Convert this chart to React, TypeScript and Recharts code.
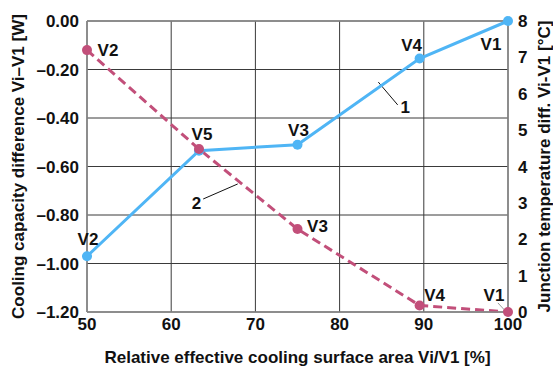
import {
  ComposedChart,
  Line,
  XAxis,
  YAxis,
  CartesianGrid,
  ReferenceLine,
  ReferenceDot,
  LabelList,
  Label,
} from 'recharts'

// relative effective cooling surface area Vi/V1 [%]
const areaPct = [50, 63.3, 75, 89.5, 100]
// cooling capacity difference Vi–V1 [W]
const capacityDiff = [-0.97, -0.535, -0.51, -0.155, 0]
// junction temperature difference Vi-V1 [°C]
const tempDiff = [7.2, 4.48, 2.28, 0.18, 0]
const variantNames = ['V2', 'V5', 'V3', 'V4', 'V1']

const xTicks = [50, 60, 70, 80, 90, 100]
const leftTicks = [-1.2, -1.0, -0.8, -0.6, -0.4, -0.2, 0]
const rightTicks = [0, 1, 2, 3, 4, 5, 6, 7, 8]

const data = areaPct.map((x, i) => ({
  x,
  cap: capacityDiff[i],
  temp: tempDiff[i],
  name: variantNames[i],
}))

const FONT = '"Liberation Sans", Arial, sans-serif'
const BLUE = '#4fb5f5'
const PINK = '#c24f7a'
const TXT = { fill: '#111', fontSize: 17, fontWeight: 'bold' as const }

// label offsets relative to the point (text centre)
const blueOffsets = [
  { dx: 1, dy: -17 },
  { dx: 3, dy: -16 },
  { dx: 1, dy: -14 },
  { dx: -8, dy: -13 },
  { dx: -17, dy: 23 },
]
const pinkOffsets = [
  { dx: 21, dy: 0 },
  null,
  { dx: 20, dy: -3 },
  { dx: 15, dy: -10 },
  { dx: -14, dy: -17 },
]

function makeLabel(offsets: Array<{ dx: number; dy: number } | null>) {
  return function PointLabel(props: any) {
    const { x, y, index, value } = props
    const off = offsets[index]
    if (!off) return null
    return (
      <text
        x={x + off.dx}
        y={y + off.dy}
        textAnchor="middle"
        dominantBaseline="central"
        fontFamily={FONT}
        fontSize={17}
        fontWeight="bold"
        fill="#111"
      >
        {value}
      </text>
    )
  }
}

const fmtLeft = (v: number) => (v === 0 ? '0.00' : '–' + Math.abs(v).toFixed(2))

export default function App() {
  return (
    <div style={{ position: 'absolute', left: 0, top: 0, background: '#fff' }}>
      <ComposedChart
        width={553}
        height={367}
        data={data}
        margin={{ top: 21, right: 0, bottom: 0, left: 0 }}
        style={{ fontFamily: FONT }}
      >
        <CartesianGrid stroke="#3a3a3a" strokeWidth={1} yAxisId="cap" />
        <XAxis
          dataKey="x"
          type="number"
          domain={[50, 100]}
          ticks={xTicks}
          height={55}
          tickLine={false}
          axisLine={{ stroke: '#888', strokeWidth: 1.5 }}
          tick={TXT}
          tickMargin={0}
        >
          <Label
            value="Relative effective cooling surface area Vi/V1 [%]"
            position="insideBottom"
            offset={4}
            {...TXT}
          />
        </XAxis>
        <YAxis
          yAxisId="cap"
          orientation="left"
          width={87}
          domain={[-1.2, 0]}
          ticks={leftTicks}
          tickFormatter={fmtLeft}
          tickLine={false}
          axisLine={{ stroke: '#888', strokeWidth: 1.5 }}
          tick={TXT}
          tickMargin={2}
        >
          <Label
            value="Cooling capacity difference Vi–V1 [W]"
            angle={-90}
            position="insideLeft"
            offset={18}
            style={{ textAnchor: 'middle' }}
            {...TXT}
          />
        </YAxis>
        <YAxis
          yAxisId="temp"
          orientation="right"
          width={45}
          domain={[0, 8]}
          ticks={rightTicks}
          tickLine={false}
          axisLine={{ stroke: '#888', strokeWidth: 1.5 }}
          tick={TXT}
          tickMargin={4}
        >
          <Label
            value="Junction temperature diff. Vi-V1 [°C]"
            angle={-90}
            position="insideRight"
            offset={9}
            style={{ textAnchor: 'middle' }}
            {...TXT}
          />
        </YAxis>
        <ReferenceLine yAxisId="cap" y={0} stroke="#888" strokeWidth={1.5} />

        {/* leader lines and curve numbers */}
        <ReferenceLine
          yAxisId="cap"
          segment={[{ x: 84.6, y: -0.252 }, { x: 86.9, y: -0.346 }]}
          stroke="#111"
          strokeWidth={1}
        />
        <ReferenceDot yAxisId="cap" x={87.8} y={-0.356} r={0} fill="none" stroke="none">
          <Label value="1" position="center" {...TXT} />
        </ReferenceDot>
        <ReferenceLine
          yAxisId="cap"
          segment={[{ x: 63.8, y: -0.734 }, { x: 67.9, y: -0.672 }]}
          stroke="#111"
          strokeWidth={1}
        />
        <ReferenceDot yAxisId="cap" x={63.0} y={-0.75} r={0} fill="none" stroke="none">
          <Label value="2" position="center" {...TXT} />
        </ReferenceDot>
        <ReferenceLine
          yAxisId="cap"
          segment={[{ x: 98.9, y: -0.078 }, { x: 99.6, y: -0.078 }, { x: 99.6, y: -0.012 }]}
          stroke="#999"
          strokeWidth={1}
        />
        <ReferenceLine
          yAxisId="temp"
          segment={[{ x: 98.8, y: 0.25 }, { x: 99.6, y: 0.05 }]}
          stroke="#999"
          strokeWidth={1}
        />

        <Line
          yAxisId="cap"
          dataKey="cap"
          type="linear"
          stroke={BLUE}
          strokeWidth={3}
          dot={{ r: 5, fill: BLUE, stroke: BLUE, strokeWidth: 0 }}
          isAnimationActive={false}
        >
          <LabelList dataKey="name" content={makeLabel(blueOffsets)} />
        </Line>
        <Line
          yAxisId="temp"
          dataKey="temp"
          type="linear"
          stroke={PINK}
          strokeWidth={3}
          strokeDasharray="9 5"
          dot={{ r: 5, fill: PINK, stroke: PINK, strokeWidth: 0, strokeDasharray: '' }}
          isAnimationActive={false}
        >
          <LabelList dataKey="name" content={makeLabel(pinkOffsets)} />
        </Line>
      </ComposedChart>
    </div>
  )
}
